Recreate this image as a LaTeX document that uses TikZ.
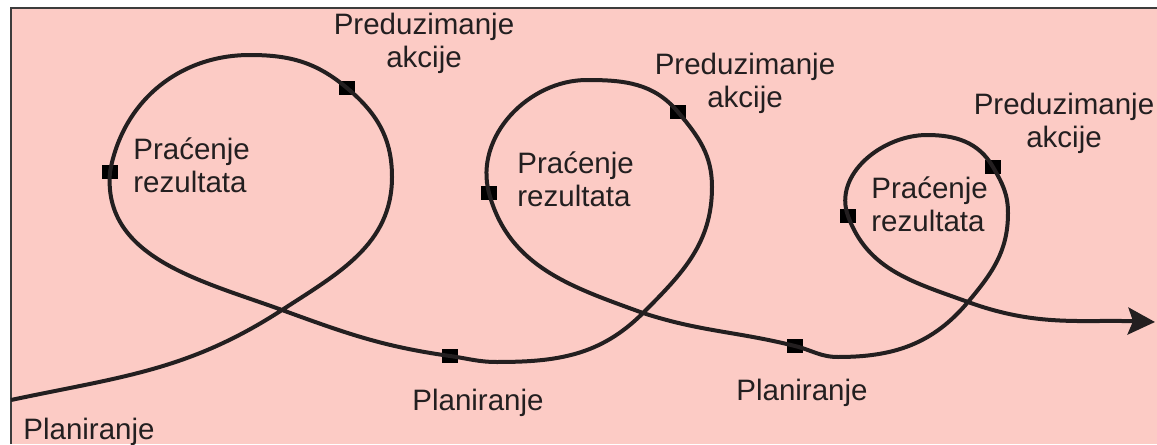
\documentclass[tikz,border=0pt]{standalone}
\usepackage{fontspec}
\setmainfont{Liberation Sans}
\usetikzlibrary{arrows.meta}
\definecolor{bgpink}{RGB}{252,203,197}
\definecolor{framegray}{RGB}{60,60,60}
\definecolor{ink}{RGB}{35,31,32}
\tikzstyle{sqmark} = [rectangle, fill=black, inner sep=0pt, minimum width=0.32cm, minimum height=0.28cm]
\tikzstyle{lbl} = [inner sep=0pt, text=ink, font=\fontsize{16.8}{18.8}\selectfont]
\tikzstyle{twoline} = [lbl, align=center]
\tikzstyle{leftlines} = [lbl, align=left, anchor=west]
\tikzstyle{spiral} = [line width=0.08cm, draw=ink, -{Stealth[length=0.54cm, width=0.54cm, inset=0.1cm]}]

\begin{document}
\begin{tikzpicture}[x=0.02cm, y=0.02cm]

\useasboundingbox (0,0) rectangle (1157,444);
\fill [bgpink] (11,0) rectangle (1157,436);
\draw [framegray, line width=0.03cm] (11,0) -- (11,436) -- (1157,436);

%% MARKERS

\node (a1) [sqmark] at (347,356) {};
\node (t1) [sqmark] at (110,272) {};
\node (p1) [sqmark] at (450,88) {};
\node (a2) [sqmark] at (678,332) {};
\node (t2) [sqmark] at (489,251) {};
\node (p2) [sqmark] at (795,98) {};
\node (a3) [sqmark] at (993,277) {};
\node (t3) [sqmark] at (848,228) {};

\coordinate (start) at (11,44);
\coordinate (x1) at (282,134);
\coordinate (r1) at (392,267);
\coordinate (top1) at (250,389);
\coordinate (b2) at (497,82);
\coordinate (x2) at (643,131);
\coordinate (r2) at (712,257);
\coordinate (top2) at (587,364);
\coordinate (b3) at (838,87);
\coordinate (x3) at (968,142);
\coordinate (r3) at (1008,231);
\coordinate (top3) at (927,309);
\coordinate (end) at (1155,122);

%% LABELS

\node (a1_label) [twoline] at (424,400.5) {Preduzimanje\\akcije};
\node (a2_label) [twoline] at (745,360.5) {Preduzimanje\\akcije};
\node (a3_label) [twoline] at (1064,321) {Preduzimanje\\akcije};
\node (t1_label) [leftlines] at (133,279) {Praćenje\\rezultata};
\node (t2_label) [leftlines] at (517,264.5) {Praćenje\\rezultata};
\node (t3_label) [leftlines] at (871,239.5) {Praćenje\\rezultata};
\node (p0_label) [lbl, anchor=base] at (89,5) {Planiranje};
\node (p1_label) [lbl, anchor=base] at (478,34) {Planiranje};
\node (p2_label) [lbl, anchor=base] at (802,44) {Planiranje};

%% CURVE

\draw [spiral] (start) to[out=12,in=213] (x1) to[out=33,in=270] (r1)
  to[out=90,in=320] (a1.center) to[out=140,in=0] (top1)
  to[out=180,in=80] (t1.center) to[out=265,in=160] (x1)
  to[out=-20,in=172] (p1.center) to[out=-8,in=180] (b2)
  to[out=0,in=225] (x2) to[out=45,in=270] (r2)
  to[out=90,in=310] (a2.center) to[out=130,in=0] (top2)
  to[out=180,in=105] (t2.center) to[out=285,in=160] (x2)
  to[out=-18,in=166] (p2.center) to[out=-14,in=180] (b3)
  to[out=0,in=230] (x3) to[out=50,in=270] (r3)
  to[out=90,in=300] (a3.center) to[out=120,in=0] (top3)
  to[out=180,in=110] (t3.center) to[out=290,in=160] (x3)
  to[out=-20,in=178] (end);

\end{tikzpicture}
\end{document}
